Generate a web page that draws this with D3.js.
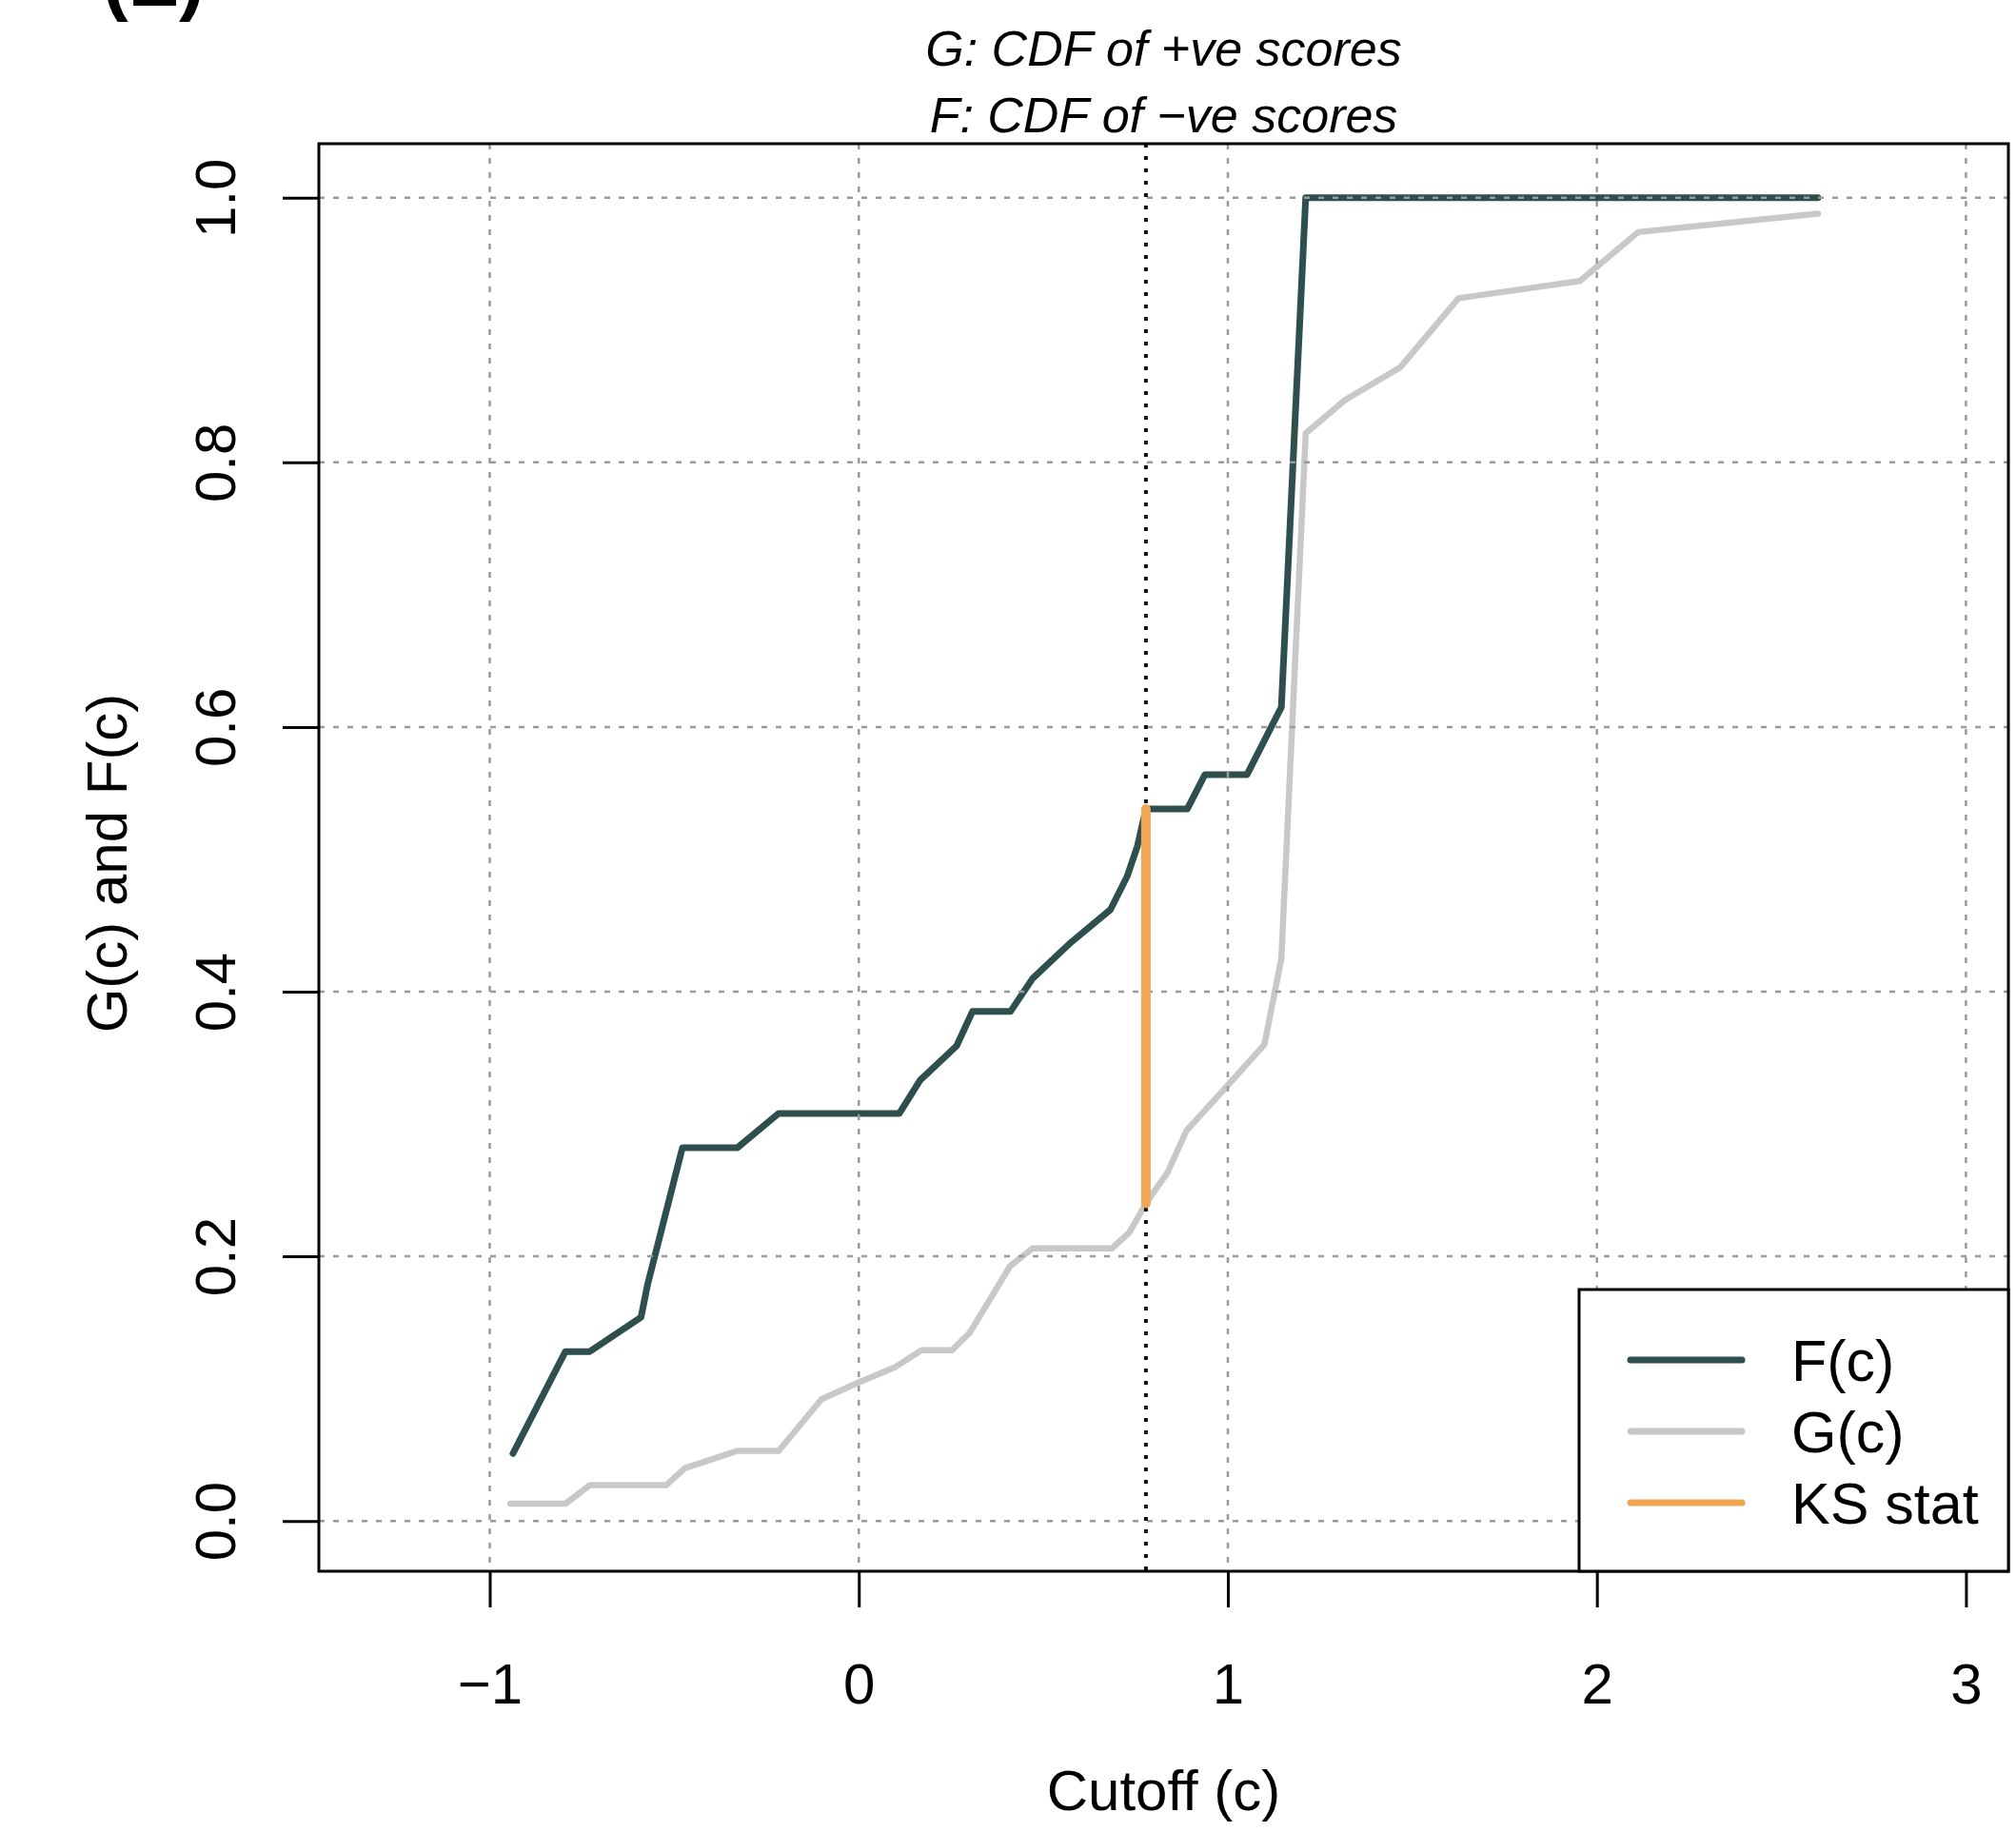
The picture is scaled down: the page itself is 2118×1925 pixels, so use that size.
<!DOCTYPE html>
<html>
<head>
<meta charset="utf-8">
<script src="https://cdn.jsdelivr.net/npm/d3@7"></script>
<style>
  html, body { margin: 0; padding: 0; background: #ffffff; }
  svg { display: block; }
  text { font-family: "Liberation Sans", Arial, Helvetica, sans-serif; fill: #000; }
</style>
</head>
<body>
<svg id="chart" width="2118" height="1925"></svg>
<script>
// ---------- data ----------
const titleLines = ["G: CDF of +ve scores", "F: CDF of \u2212ve scores"];
const panelLabel = "(E)";
const xLabel = "Cutoff (c)";
const yLabel = "G(c) and F(c)";

const xTicks = [-1, 0, 1, 2, 3];
const yTicks = [0, 0.2, 0.4, 0.6, 0.8, 1.0];

// F(c): CDF of negative scores
const fX = [-0.937, -0.795, -0.729, -0.590, -0.572, -0.478, -0.329, -0.217, 0.110, 0.166, 0.265, 0.308, 0.411, 0.471, 0.570, 0.682, 0.727, 0.755, 0.778, 0.890, 0.938, 1.052, 1.145, 1.211, 2.599];
const fY = [0.051, 0.128, 0.128, 0.154, 0.179, 0.282, 0.282, 0.308, 0.308, 0.333, 0.359, 0.385, 0.385, 0.410, 0.436, 0.462, 0.487, 0.510, 0.538, 0.538, 0.564, 0.564, 0.615, 1.000, 1.000];

// G(c): CDF of positive scores
const gX = [-0.944, -0.795, -0.729, -0.522, -0.471, -0.329, -0.217, -0.101, -0.006, 0.097, 0.170, 0.252, 0.300, 0.411, 0.471, 0.686, 0.733, 0.778, 0.836, 0.888, 0.999, 1.099, 1.145, 1.211, 1.317, 1.468, 1.625, 1.954, 2.112, 2.599];
const gY = [0.013, 0.013, 0.027, 0.027, 0.040, 0.053, 0.053, 0.092, 0.104, 0.116, 0.129, 0.129, 0.142, 0.193, 0.206, 0.206, 0.218, 0.240, 0.263, 0.295, 0.329, 0.360, 0.425, 0.822, 0.847, 0.872, 0.924, 0.937, 0.974, 0.988];

// KS statistic location
const ksX = [0.778];
const ksLow = [0.240];
const ksHigh = [0.538];

const legendLabels = ["F(c)", "G(c)", "KS stat"];
const seriesColors = ["#2F4F4F", "#C8C8C8", "#F3A556"];

// ---------- layout ----------
const plot = { left: 335, right: 2110, top: 151, bottom: 1651 };
const svg = d3.select("#chart");

const x = d3.scaleLinear().domain([-1.463, 3.115]).range([plot.left, plot.right]);
const y = d3.scaleLinear().domain([-0.038, 1.0408]).range([plot.bottom, plot.top]);

const fData = fX.map((v, i) => [v, fY[i]]);
const gData = gX.map((v, i) => [v, gY[i]]);
const line = d3.line().x(d => x(d[0])).y(d => y(d[1]));

// panel label (cut off at top, as in the original figure)
svg.append("text")
  .attr("x", 108).attr("y", 6)
  .attr("font-size", 80).attr("font-weight", "bold")
  .text(panelLabel);

// title
svg.selectAll("text.title").data(titleLines).join("text")
  .attr("class", "title")
  .attr("x", (plot.left + plot.right) / 2)
  .attr("y", (d, i) => 69 + i * 70)
  .attr("text-anchor", "middle")
  .attr("font-size", 52)
  .attr("font-style", "italic")
  .text(d => d);

// clip
svg.append("clipPath").attr("id", "clip")
  .append("rect")
  .attr("x", plot.left).attr("y", plot.top)
  .attr("width", plot.right - plot.left).attr("height", plot.bottom - plot.top);

const gPlot = svg.append("g").attr("clip-path", "url(#clip)");

// series
gPlot.append("path").datum(fData)
  .attr("d", line).attr("fill", "none")
  .attr("stroke", seriesColors[0]).attr("stroke-width", 7)
  .attr("stroke-linejoin", "round").attr("stroke-linecap", "round");

gPlot.append("path").datum(gData)
  .attr("d", line).attr("fill", "none")
  .attr("stroke", seriesColors[1]).attr("stroke-width", 6.5)
  .attr("stroke-linejoin", "round").attr("stroke-linecap", "round");

// grid
gPlot.selectAll("line.vgrid").data(xTicks).join("line")
  .attr("class", "vgrid")
  .attr("x1", d => x(d)).attr("x2", d => x(d))
  .attr("y1", plot.top).attr("y2", plot.bottom)
  .attr("stroke", "#9a9a9a").attr("stroke-width", 2.5)
  .attr("stroke-dasharray", "6,9");

gPlot.selectAll("line.hgrid").data(yTicks).join("line")
  .attr("class", "hgrid")
  .attr("y1", d => y(d)).attr("y2", d => y(d))
  .attr("x1", plot.left).attr("x2", plot.right)
  .attr("stroke", "#9a9a9a").attr("stroke-width", 2.5)
  .attr("stroke-dasharray", "6,9");

// vertical dotted line at KS location
gPlot.selectAll("line.ksv").data(ksX).join("line")
  .attr("class", "ksv")
  .attr("x1", d => x(d)).attr("x2", d => x(d))
  .attr("y1", plot.top).attr("y2", plot.bottom)
  .attr("stroke", "#111").attr("stroke-width", 4)
  .attr("stroke-dasharray", "4,9");

// KS segment
gPlot.selectAll("line.ks").data(ksX).join("line")
  .attr("class", "ks")
  .attr("x1", d => x(d)).attr("x2", d => x(d))
  .attr("y1", (d, i) => y(ksLow[i])).attr("y2", (d, i) => y(ksHigh[i]))
  .attr("stroke", seriesColors[2]).attr("stroke-width", 10)
  .attr("stroke-linecap", "round");

// axes
const xAxis = svg.append("g")
  .attr("transform", `translate(0,${plot.bottom})`)
  .call(d3.axisBottom(x).tickValues(xTicks).tickSize(38).tickFormat(d3.format("d")));
xAxis.select(".domain").remove();
xAxis.selectAll(".tick line").attr("stroke", "#000").attr("stroke-width", 3);
xAxis.selectAll(".tick text")
  .attr("y", 139).attr("dy", null)
  .attr("font-size", 60)
  .attr("font-family", "Liberation Sans, Arial, Helvetica, sans-serif")
  .attr("fill", "#000");

const yAxis = svg.append("g")
  .attr("transform", `translate(${plot.left},0)`)
  .call(d3.axisLeft(y).tickValues(yTicks).tickSize(38).tickFormat(d3.format(".1f")));
yAxis.select(".domain").remove();
yAxis.selectAll(".tick line").attr("stroke", "#000").attr("stroke-width", 3);
yAxis.selectAll(".tick text")
  .attr("x", null).attr("dy", null)
  .attr("transform", "translate(-88,0) rotate(-90)")
  .attr("text-anchor", "middle")
  .attr("font-size", 60)
  .attr("font-family", "Liberation Sans, Arial, Helvetica, sans-serif")
  .attr("fill", "#000");

// axis titles
svg.append("text")
  .attr("x", (plot.left + plot.right) / 2).attr("y", 1902)
  .attr("text-anchor", "middle").attr("font-size", 60)
  .text(xLabel);

svg.append("text")
  .attr("transform", `translate(133,${(plot.top + plot.bottom) / 2 + 6}) rotate(-90)`)
  .attr("text-anchor", "middle").attr("font-size", 60)
  .text(yLabel);

// plot box
svg.append("rect")
  .attr("x", plot.left).attr("y", plot.top)
  .attr("width", plot.right - plot.left).attr("height", plot.bottom - plot.top)
  .attr("fill", "none").attr("stroke", "#000").attr("stroke-width", 3);

// legend
const legend = svg.append("g");
legend.append("rect")
  .attr("x", 1659).attr("y", 1355)
  .attr("width", plot.right - 1659).attr("height", plot.bottom - 1355)
  .attr("fill", "#fff").attr("stroke", "#000").attr("stroke-width", 3);

const legendRows = legend.selectAll("g.row").data(legendLabels).join("g")
  .attr("class", "row")
  .attr("transform", (d, i) => `translate(0,${1429 + i * 75})`);
legendRows.append("line")
  .attr("x1", 1713).attr("x2", 1830)
  .attr("stroke", (d, i) => seriesColors[i])
  .attr("stroke-width", 7).attr("stroke-linecap", "round");
legendRows.append("text")
  .attr("x", 1882).attr("dy", "0.36em")
  .attr("font-size", 61)
  .text(d => d);
</script>
</body>
</html>
